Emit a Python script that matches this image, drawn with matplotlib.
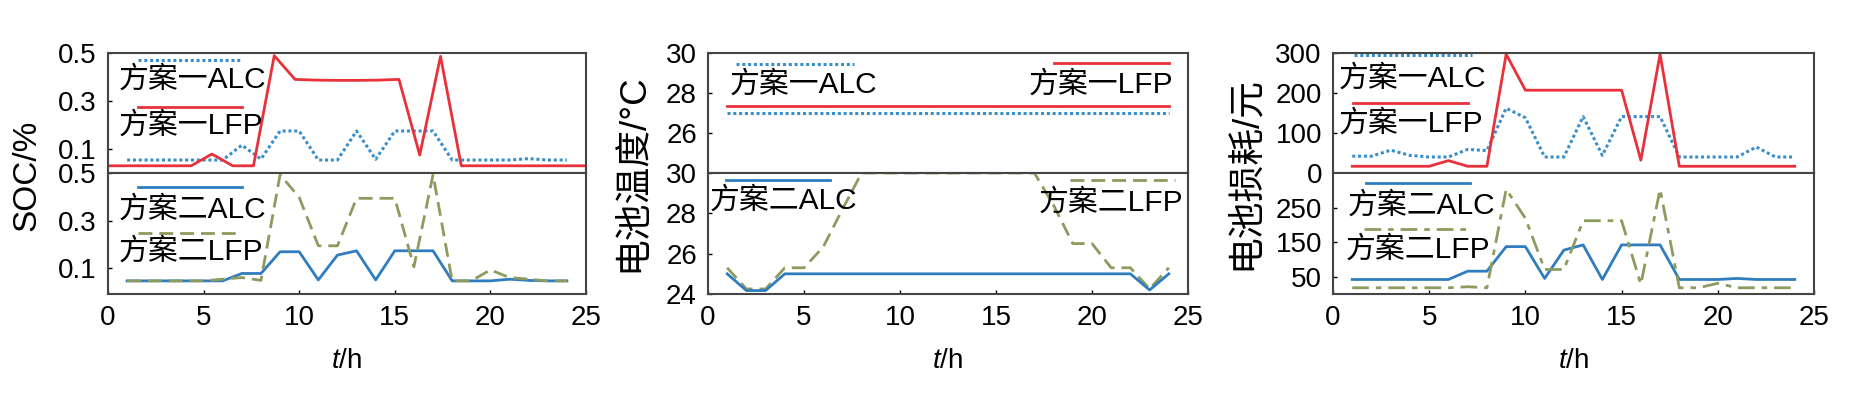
import numpy as np
import matplotlib
matplotlib.use("Agg")
import matplotlib.pyplot as plt
from matplotlib.lines import Line2D

plt.rcParams['font.family'] = ['Liberation Sans', 'Noto Sans CJK SC']
plt.rcParams['mathtext.fontset'] = 'custom'
plt.rcParams['mathtext.rm'] = 'Liberation Sans'
plt.rcParams['mathtext.it'] = 'Liberation Sans:italic'

# ---------------- data ----------------
hours = [1, 2, 3, 4, 5, 6, 7, 8, 9, 10, 11, 12, 13, 14, 15, 16, 17, 18, 19, 20, 21, 22, 23, 24]
hours_soc_lfp1 = np.linspace(0, 25, 24)

soc_alc1 = [0.054, 0.054, 0.054, 0.054, 0.054, 0.054, 0.116, 0.058, 0.175, 0.175, 0.054, 0.054,
            0.175, 0.057, 0.175, 0.175, 0.175, 0.054, 0.054, 0.054, 0.054, 0.060, 0.054, 0.054]
soc_lfp1 = [0.030, 0.030, 0.030, 0.030, 0.030, 0.079, 0.030, 0.030, 0.489, 0.390, 0.387, 0.386,
            0.386, 0.387, 0.390, 0.075, 0.486, 0.030, 0.030, 0.030, 0.030, 0.030, 0.030, 0.030]
soc_alc2 = [0.048, 0.048, 0.048, 0.048, 0.048, 0.048, 0.079, 0.079, 0.170, 0.170, 0.052, 0.156,
            0.174, 0.052, 0.174, 0.174, 0.174, 0.048, 0.048, 0.048, 0.055, 0.050, 0.048, 0.048]
soc_lfp2 = [0.048, 0.048, 0.048, 0.048, 0.048, 0.055, 0.062, 0.050, 0.493, 0.398, 0.195, 0.195,
            0.394, 0.394, 0.394, 0.107, 0.493, 0.048, 0.048, 0.094, 0.062, 0.055, 0.048, 0.048]

temp_alc1 = [27.0, 27.0, 27.0, 27.0, 27.0, 27.0, 27.0, 27.0, 27.0, 27.0, 27.0, 27.0,
             27.0, 27.0, 27.0, 27.0, 27.0, 27.0, 27.0, 27.0, 27.0, 27.0, 27.0, 27.0]
temp_lfp1 = [27.35, 27.35, 27.35, 27.35, 27.35, 27.35, 27.35, 27.35, 27.35, 27.35, 27.35, 27.35,
             27.35, 27.35, 27.35, 27.35, 27.35, 27.35, 27.35, 27.35, 27.35, 27.35, 27.35, 27.35]
temp_alc2 = [25.0, 24.17, 24.17, 25.0, 25.0, 25.0, 25.0, 25.0, 25.0, 25.0, 25.0, 25.0,
             25.0, 25.0, 25.0, 25.0, 25.0, 25.0, 25.0, 25.0, 25.0, 25.0, 24.2, 25.0]
temp_lfp2 = [25.3, 24.25, 24.25, 25.3, 25.3, 26.33, 28.2, 30.0, 30.0, 30.0, 30.0, 30.0,
             30.0, 30.0, 30.0, 30.0, 30.0, 28.4, 26.5, 26.5, 25.3, 25.3, 24.25, 25.3]

cost_alc1 = [42, 42, 57, 44, 40, 40, 59, 56, 162, 138, 40, 40,
             141, 44, 141, 141, 141, 40, 40, 40, 40, 65, 40, 40]
cost_lfp1 = [16.8, 16.8, 16.8, 16.8, 16.8, 31, 16.8, 16.8, 297, 207, 207, 207,
             207, 207, 207, 32, 297, 16.8, 16.8, 16.8, 16.8, 16.8, 16.8, 16.8]
cost_alc2 = [42, 42, 42, 42, 42, 42, 66, 66, 137, 137, 45, 127,
             142, 42, 142, 142, 142, 42, 42, 42, 45, 42, 42, 42]
cost_lfp2 = [18, 18, 18, 18, 18, 18, 21, 18, 303, 219, 71, 71,
             212, 212, 212, 28, 303, 18, 18, 31, 18, 18, 18, 18]

xticks = [0, 5, 10, 15, 20, 25]
labels = ['方案一ALC', '方案一LFP', '方案二ALC', '方案二LFP']

# ---------------- styles ----------------
RED = '#e8313b'
BLUE = '#2f7dbf'
BLUE_DOT = '#3a8fcb'
GREEN = '#8c9b5e'
SPINE = '#454545'
TICK_FS = 20
LEG_FS = 21.5

st_alc1 = dict(color=BLUE_DOT, lw=2.2, linestyle=(0, (1.0, 0.9)))
st_lfp1 = dict(color=RED, lw=2.0, linestyle='-')
st_alc2 = dict(color=BLUE, lw=2.0, linestyle='-')
st_lfp2 = dict(color=GREEN, lw=2.0, linestyle=(0, (5, 2.5)))
st_lfp2_dd = dict(color=GREEN, lw=2.0, linestyle=(0, (6, 2.5, 2, 2.5)))

fig = plt.figure(figsize=(18.57, 3.94), dpi=100)

lefts = [108 / 1857, 708 / 1857, 1333 / 1857]
widths = [478 / 1857, 480 / 1857, 481 / 1857]
top_b, top_h = 1 - 173 / 394, 120 / 394
bot_b, bot_h = 1 - 294 / 394, 121 / 394


def style_ax(ax, show_x):
    for s in ax.spines.values():
        s.set_color(SPINE)
        s.set_linewidth(1.5)
    ax.tick_params(direction='in', length=3, width=1, labelsize=TICK_FS, pad=8,
                   colors='black', top=False, right=False, bottom=show_x)
    ax.set_xlim(0, 25)
    ax.set_xticks(xticks)
    if not show_x:
        ax.tick_params(labelbottom=False)


def leg(ax, x0, x1, yl, xt, yt, text, style, ha='left'):
    ax.add_line(Line2D([x0, x1], [yl, yl], transform=ax.transAxes, **style))
    ax.text(xt, yt, text, transform=ax.transAxes, ha=ha, va='center', fontsize=LEG_FS)


axes = []
for i in range(3):
    at = fig.add_axes([lefts[i], top_b, widths[i], top_h])
    ab = fig.add_axes([lefts[i], bot_b, widths[i], bot_h])
    style_ax(at, False)
    style_ax(ab, True)
    ab.set_xlabel('$t$/h', fontsize=TICK_FS, labelpad=12)
    axes.append((at, ab))

# ---- Panel 1: SOC ----
at, ab = axes[0]
at.plot(hours, soc_alc1, **st_alc1)
at.plot(hours_soc_lfp1, soc_lfp1, **st_lfp1)
at.set_ylim(0, 0.5)
at.set_yticks([0.1, 0.3, 0.5])
at.set_yticklabels(['0.1', '0.3', '0.5'])
ab.plot(hours, soc_alc2, **st_alc2)
ab.plot(hours, soc_lfp2, **st_lfp2)
ab.set_ylim(-0.007, 0.5)
ab.set_yticks([0.1, 0.3, 0.5])
ab.set_yticklabels(['0.1', '0.3', '0.5'])
leg(at, 0.063, 0.28, 0.942, 0.022, 0.775, labels[0], st_alc1)
leg(at, 0.063, 0.28, 0.553, 0.022, 0.394, labels[1], st_lfp1)
leg(ab, 0.063, 0.28, 0.887, 0.022, 0.694, labels[2], st_alc2)
leg(ab, 0.063, 0.28, 0.504, 0.022, 0.350, labels[3], st_lfp2)
fig.text(27 / 1857, 1 - 175 / 394, 'SOC/%', rotation=90, ha='center', va='center', fontsize=24)

# ---- Panel 2: temperature ----
at, ab = axes[1]
at.plot(hours, temp_lfp1, **st_lfp1)
at.plot(hours, temp_alc1, **st_alc1)
at.set_ylim(24, 30)
at.set_yticks([26, 28, 30])
ab.plot(hours, temp_lfp2, **st_lfp2)
ab.plot(hours, temp_alc2, **st_alc2)
ab.set_ylim(24, 30)
ab.set_yticks([24, 26, 28, 30])
leg(at, 0.058, 0.305, 0.906, 0.046, 0.733, labels[0], st_alc1)
leg(at, 0.721, 0.961, 0.919, 0.969, 0.733, labels[1], st_lfp1, ha='right')
leg(ab, 0.037, 0.255, 0.942, 0.004, 0.771, labels[2], st_alc2)
leg(ab, 0.754, 0.973, 0.942, 0.99, 0.752, labels[3], st_lfp2, ha='right')
fig.text(633 / 1857, 1 - 173 / 394, '电池温度/°C', rotation=90, ha='center', va='center', fontsize=26.5)

# ---- Panel 3: cost ----
at, ab = axes[2]
at.plot(hours, cost_alc1, **st_alc1)
at.plot(hours, cost_lfp1, **st_lfp1)
at.set_ylim(0, 300)
at.set_yticks([0, 100, 200, 300])
ab.plot(hours, cost_alc2, **st_alc2)
ab.plot(hours, cost_lfp2, **st_lfp2_dd)
ab.set_ylim(0, 350)
ab.set_yticks([50, 150, 250])
leg(at, 0.043, 0.289, 0.983, 0.011, 0.789, labels[0], st_alc1)
leg(at, 0.042, 0.281, 0.586, 0.011, 0.408, labels[1], st_lfp1)
leg(ab, 0.068, 0.285, 0.920, 0.031, 0.727, labels[2], st_alc2)
leg(ab, 0.064, 0.281, 0.535, 0.027, 0.364, labels[3], st_lfp2_dd)
fig.text(1245 / 1857, 1 - 173 / 394, '电池损耗/元', rotation=90, ha='center', va='center', fontsize=26.5)

fig.savefig('out.png', dpi=100)
